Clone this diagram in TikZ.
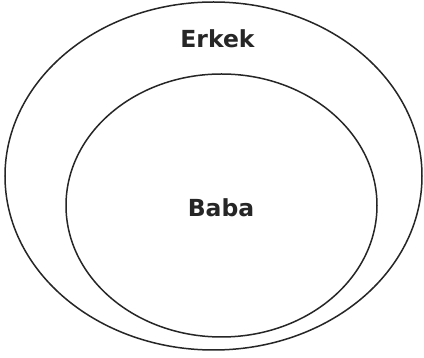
\documentclass[tikz,border=0pt]{standalone}
\usepackage{fontspec}
\setmainfont{DejaVu Sans}
\begin{document}
\begin{tikzpicture}[x=1pt,y=-1pt,
  setline/.style={draw=black!85, line width=1.5pt},
  lbl/.style={font=\bfseries\fontsize{23.5}{28}\selectfont, text=black!85, inner sep=0pt}]
\useasboundingbox (0,0) rectangle (424,358);
\fill[white] (0,0) rectangle (424,358);
\draw[setline] (213.5,176) ellipse [x radius=208.5, y radius=174];
\draw[setline] (221.5,205.5) ellipse [x radius=155.5, y radius=131.5];
\node[lbl] (erkek) at (217.5,39) {Erkek};
\node[lbl] (baba) at (221,207.5) {Baba};
\end{tikzpicture}
\end{document}
